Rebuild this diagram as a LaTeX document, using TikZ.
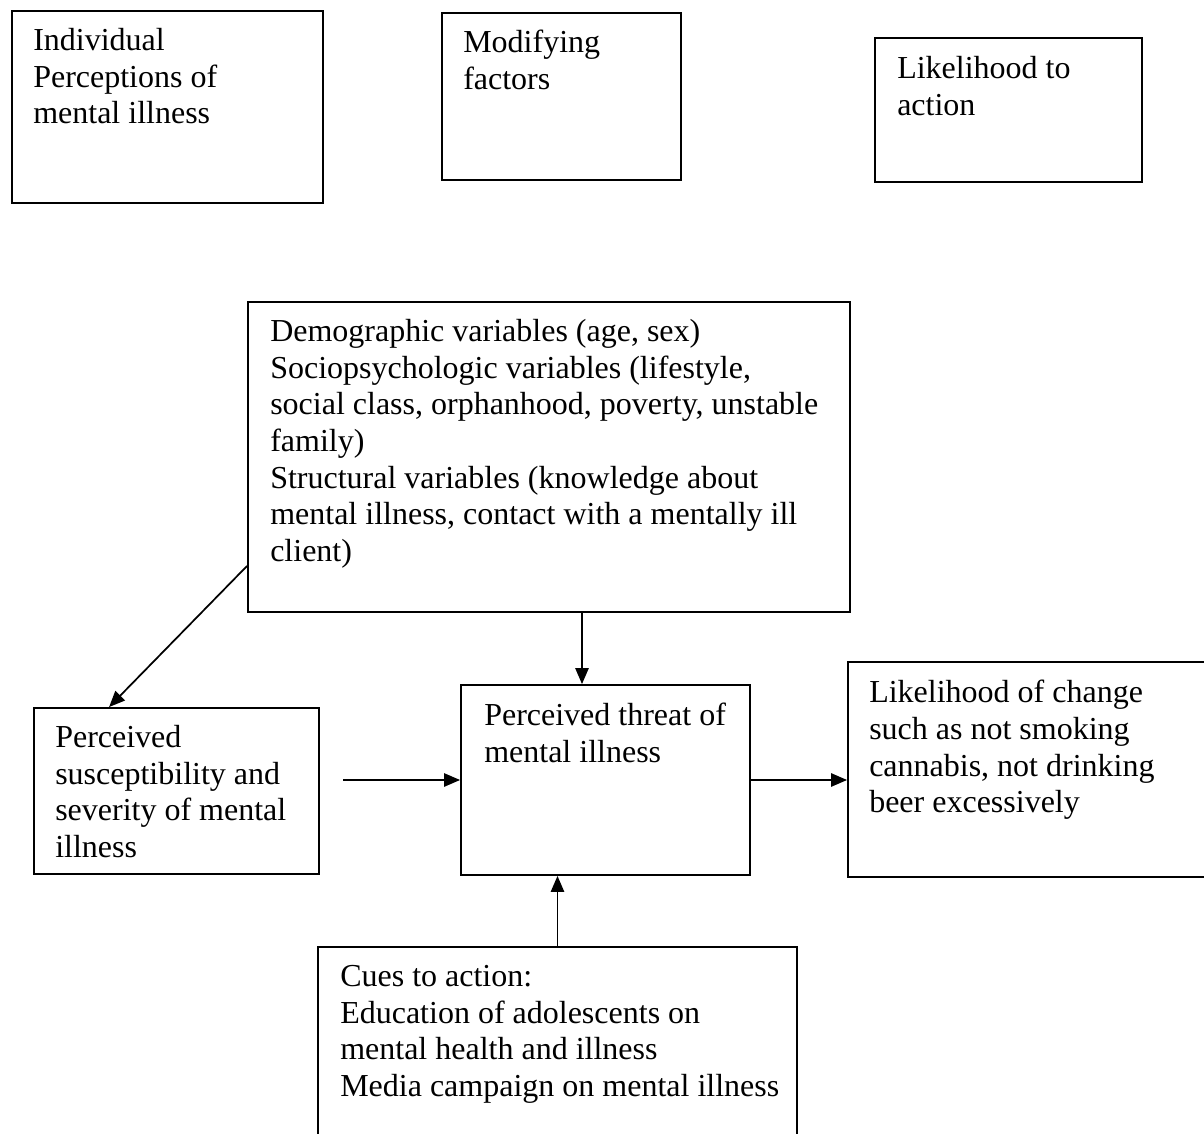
\documentclass[tikz,border=0pt]{standalone}
\usepackage{fontspec}
\setmainfont{Liberation Serif}
\usetikzlibrary{arrows.meta,fit}
\begin{document}
\begin{tikzpicture}[x=0.75pt,y=0.75pt,yscale=-1,xscale=1,
	box/.style={draw, line width=1.4pt, inner sep=0pt},
	txt/.style={anchor=north west, inner sep=0pt, align=left, font=\fontsize{24}{27.5}\selectfont},
	link/.style={line width=1.3pt, -{Triangle[length=12pt,width=10pt]}}]
	%set diagram left start at 0, and has height of 1134
	\useasboundingbox (0,0) rectangle (1204,1134);
	
	%Shape: Rectangle [top row]
	\node[box, fit={(12,11) (323,203)}] (percep) {};
	\node[box, fit={(442,13) (681,180)}] (modif) {};
	\node[box, fit={(875,38) (1142,182)}] (likeact) {};
	%Shape: Rectangle [model]
	\node[box, fit={(248,302) (850,612)}] (demog) {};
	\node[box, fit={(34,708) (319,874)}] (suscept) {};
	\node[box, fit={(461,685) (750,875)}] (threat) {};
	\node[box, fit={(848,662) (1215,877)}] (change) {};
	\node[box, fit={(318,947) (797,1150)}] (cues) {};
	
	%Straight Lines
	\draw[link] ([yshift=-35.25pt]demog.south west) -- ([xshift=57pt]suscept.north west);
	\coordinate (down) at ([xshift=24.75pt]demog.south);
	\draw[link] (down) -- (down |- threat.north);
	\coordinate (side) at (343,0 |- threat.west);
	\draw[link] (side) -- (threat.west);
	\draw[link] (threat.east) -- (threat.east -| change.west);
	\draw[link] (cues.north) -- (cues.north |- threat.south);
	
	% Text Node
	\node[txt] (percept) at (33,28) {Individual\\Perceptions of\\mental illness};
	% Text Node
	\node[txt] (modift) at (463,30) {Modifying\\factors};
	% Text Node
	\node[txt] (likeactt) at (897,56) {Likelihood to\\action};
	% Text Node
	\node[txt] (demogt) at (270,319) {Demographic variables (age, sex)\\Sociopsychologic variables (lifestyle,\\social class, orphanhood, poverty, unstable\\family)\\Structural variables (knowledge about\\mental illness, contact with a mentally ill\\client)};
	% Text Node
	\node[txt] (susceptt) at (55,725) {Perceived\\susceptibility and\\severity of mental\\illness};
	% Text Node
	\node[txt] (threatt) at (484,703) {Perceived threat of\\mental illness};
	% Text Node
	\node[txt] (changet) at (869,680) {Likelihood of change\\such as not smoking\\cannabis, not drinking\\beer excessively};
	% Text Node
	\node[txt] (cuest) at (340,965) {Cues to action:\\Education of adolescents on\\mental health and illness\\Media campaign on mental illness};
	
\end{tikzpicture}
\end{document}
